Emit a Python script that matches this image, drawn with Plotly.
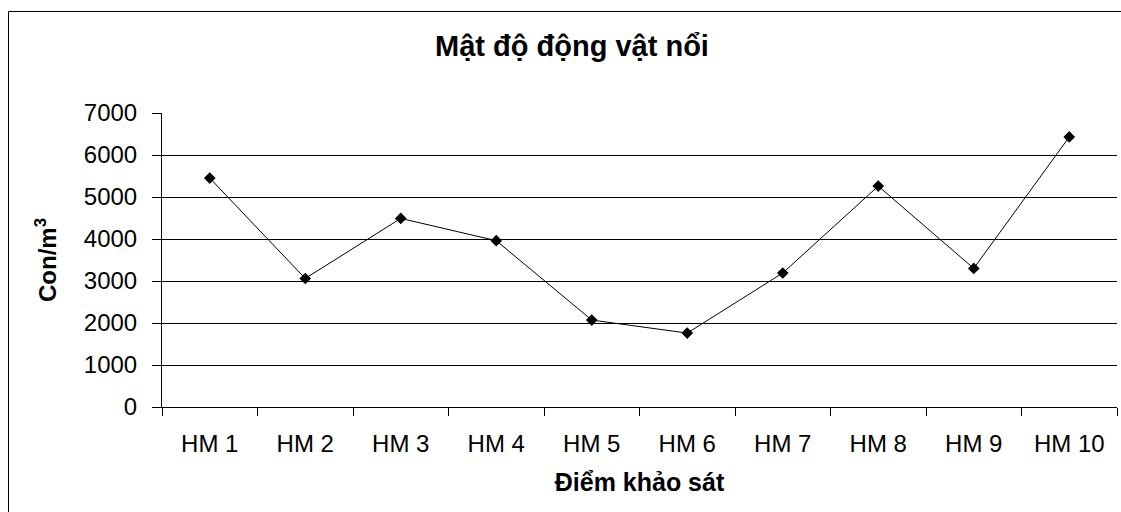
import plotly.graph_objects as go

categories = ["HM 1", "HM 2", "HM 3", "HM 4", "HM 5", "HM 6", "HM 7", "HM 8", "HM 9", "HM 10"]
density = [5450, 3060, 4490, 3960, 2070, 1760, 3190, 5260, 3300, 6430]
y_ticks = [0, 1000, 2000, 3000, 4000, 5000, 6000, 7000]

FONT = "Liberation Sans, Arial, sans-serif"

fig = go.Figure()
fig.add_trace(go.Scatter(
    x=categories, y=density, mode="lines+markers",
    line=dict(color="black", width=1),
    marker=dict(symbol="diamond", size=9, color="black"),
    showlegend=False, cliponaxis=False,
))

W, H = 1121, 512
plot_left, plot_right, plot_top, plot_bottom = 162, 1117, 113, 407
L = plot_left
R = W - plot_right
T = plot_top
B = H - plot_bottom
pw, ph = W - L - R, H - T - B

def px(x):
    return (x - L) / pw

def py(y):
    return (H - B - y) / ph

fig.add_shape(type="rect", xref="paper", yref="paper",
              x0=px(8.5), x1=px(1140), y0=py(540), y1=py(11.5),
              line=dict(color="black", width=1), fillcolor="rgba(0,0,0,0)", layer="below")

fig.update_layout(
    width=W, height=H,
    margin=dict(l=L, r=R, t=T, b=B),
    paper_bgcolor="white", plot_bgcolor="white",
    font=dict(family=FONT, color="black"),
    title=dict(text="<b>Mật độ động vật nổi</b>", x=572 / W, xref="container", xanchor="center",
               y=1 - 46 / H, yref="container", yanchor="middle",
               font=dict(size=29, family=FONT, color="black")),
    xaxis=dict(
        type="category", tickson="boundaries", ticks="outside", ticklen=8, tickcolor="black",
        showline=True, linecolor="black", linewidth=1, showgrid=False,
        tickfont=dict(size=24, family=FONT, color="black"),
        ticklabelstandoff=15,
        range=[-0.5, 9.5],
        title=dict(text="<b>Điểm khảo sát</b>", font=dict(size=25, family=FONT, color="black"), standoff=17),
    ),
    yaxis=dict(
        range=[0, 7000], tickvals=y_ticks, ticks="outside", ticklen=9, tickcolor="black",
        showline=True, linecolor="black", linewidth=1,
        showgrid=True, gridcolor="black", gridwidth=1, zeroline=False,
        tickfont=dict(size=24, family=FONT, color="black"),
        ticklabelstandoff=10,
        title=dict(text="<b>Con/m<sup>3</sup></b>", font=dict(size=24, family=FONT, color="black"), standoff=20),
    ),
)

fig.write_html(
    "out.html",
    config={"displayModeBar": False},
    post_script="document.body.style.margin='0';document.body.style.overflow='hidden';",
)
